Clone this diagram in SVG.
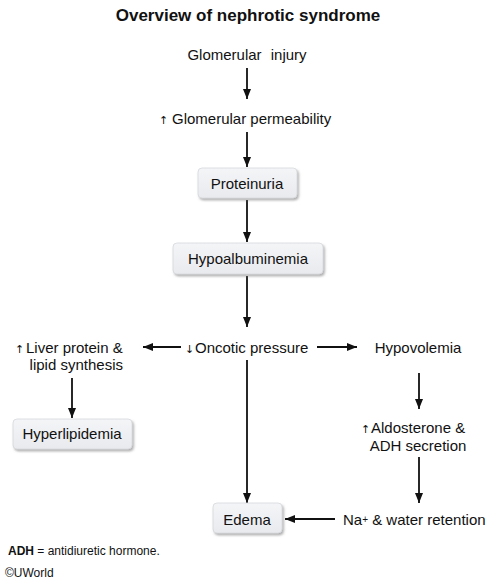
<svg xmlns="http://www.w3.org/2000/svg" width="494" height="583" viewBox="0 0 494 583">
<defs>
<style>
text{font-family:"Liberation Sans",Arial,sans-serif;fill:#111;}
.t{font-size:15px;}
.c{text-anchor:middle;}
.ar{font-family:"DejaVu Sans",sans-serif;font-size:11px;fill:#111;}
.box{fill:url(#g);stroke:#d6d8dc;stroke-width:0.8;filter:url(#sh);}
.ln{stroke:#111;stroke-width:1.8;fill:none;marker-end:url(#ah);}
</style>
<linearGradient id="g" x1="0" y1="0" x2="0" y2="1">
<stop offset="0" stop-color="#f4f5f7"/>
<stop offset="1" stop-color="#e8eaee"/>
</linearGradient>
<filter id="sh" x="-10%" y="-20%" width="130%" height="160%">
<feDropShadow dx="1.5" dy="2" stdDeviation="1.2" flood-color="#707070" flood-opacity="0.55"/>
</filter>
<marker id="ah" markerUnits="userSpaceOnUse" markerWidth="10" markerHeight="10" viewBox="0 0 10 10" refX="10" refY="5" orient="auto">
<path d="M0,1 L10,5 L0,9 Z" fill="#111"/>
</marker>
</defs>

<text x="248" y="21" class="c" style="font-size:17px;font-weight:bold">Overview of nephrotic syndrome</text>

<g id="connectors">
<line class="ln" x1="247" y1="68" x2="247" y2="99"/>
<line class="ln" x1="247" y1="132" x2="247" y2="167"/>
<line class="ln" x1="247" y1="200" x2="247" y2="242"/>
<line class="ln" x1="247" y1="276" x2="247" y2="327"/>
<line class="ln" x1="181" y1="347" x2="143" y2="347"/>
<line class="ln" x1="317" y1="347" x2="357" y2="347"/>
<line class="ln" x1="72" y1="378" x2="72" y2="418"/>
<line class="ln" x1="247" y1="360" x2="247" y2="503"/>
<line class="ln" x1="419" y1="373" x2="419" y2="409"/>
<line class="ln" x1="419" y1="457" x2="419" y2="503"/>
<line class="ln" x1="335" y1="519" x2="285" y2="519"/>
</g>

<g id="glomerular-injury">
<text x="247" y="60" class="t c" style="word-spacing:5px">Glomerular injury</text>
</g>

<g id="permeability">
<text y="124" class="t"><tspan x="159" class="ar">↑</tspan><tspan x="172">Glomerular permeability</tspan></text>
</g>

<g id="proteinuria">
<rect class="box" x="198" y="168" width="99" height="30" rx="4"/>
<text x="247" y="189" class="t c">Proteinuria</text>
</g>

<g id="hypoalbuminemia">
<rect class="box" x="173" y="243" width="150" height="31" rx="4"/>
<text x="248" y="264" class="t c">Hypoalbuminemia</text>
</g>

<g id="oncotic-pressure">
<text y="353" class="t"><tspan x="185" class="ar">↓</tspan><tspan x="195">Oncotic pressure</tspan></text>
</g>

<g id="liver-synthesis">
<text y="353" class="t"><tspan x="15" class="ar">↑</tspan><tspan x="26">Liver protein &amp;</tspan></text>
<text x="123" y="370" class="t" style="text-anchor:end">lipid synthesis</text>
</g>

<g id="hyperlipidemia">
<rect class="box" x="13" y="419" width="119" height="30" rx="4"/>
<text x="72" y="439" class="t c">Hyperlipidemia</text>
</g>

<g id="hypovolemia">
<text x="418" y="353" class="t c">Hypovolemia</text>
</g>

<g id="aldosterone">
<text y="433" class="t"><tspan x="361" class="ar">↑</tspan><tspan x="371">Aldosterone &amp;</tspan></text>
<text x="418" y="451" class="t c">ADH secretion</text>
</g>

<g id="na-retention">
<text x="343" y="525" class="t">Na<tspan style="font-size:10px" dy="-2">+</tspan><tspan dy="2"> &amp; water retention</tspan></text>
</g>

<g id="edema">
<rect class="box" x="213" y="503" width="69" height="30" rx="4"/>
<text x="247" y="525" class="t c">Edema</text>
</g>

<text x="8" y="555" style="font-size:12px"><tspan style="font-weight:bold">ADH</tspan> = antidiuretic hormone.</text>
<text x="5" y="577" style="font-size:12px">©UWorld</text>
</svg>
